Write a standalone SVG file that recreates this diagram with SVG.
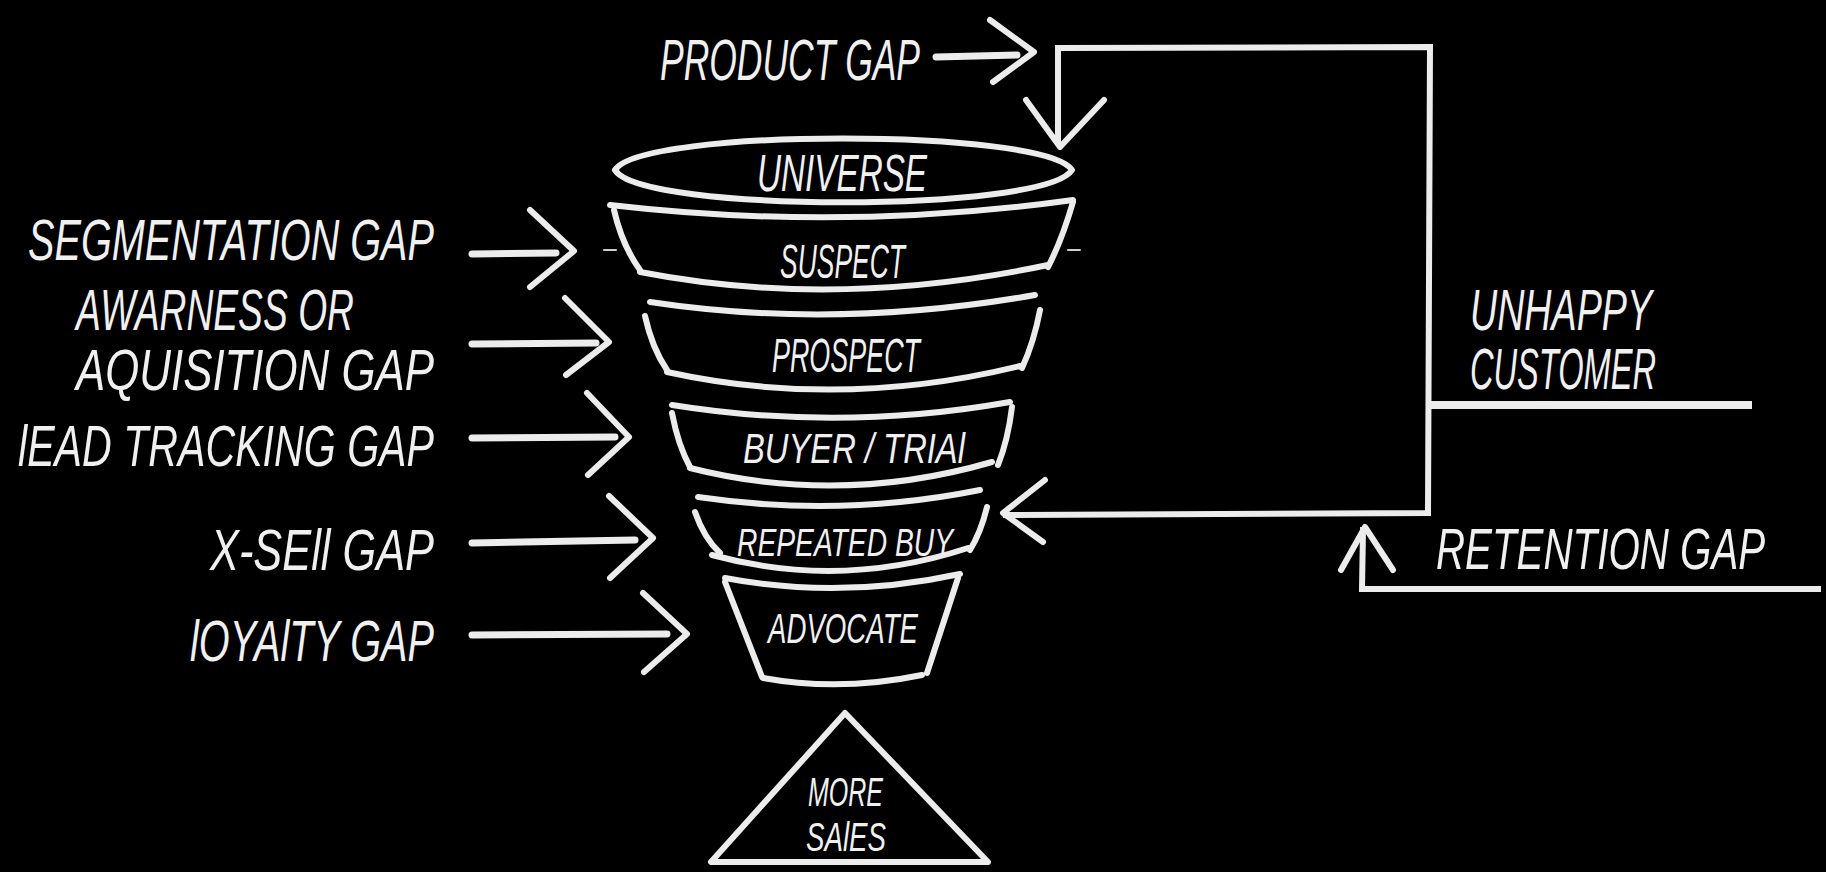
<svg xmlns="http://www.w3.org/2000/svg" width="1826" height="872" viewBox="0 0 1826 872">
  <style>
    .ink { fill: none; stroke: #ececec; stroke-width: 6; stroke-linecap: round; stroke-linejoin: round; }
    .thin { fill: none; stroke: #cfcfcf; stroke-width: 2; stroke-linecap: round; }
    .wire { fill: none; stroke: #ececec; stroke-width: 6; stroke-linecap: square; stroke-linejoin: miter; }
    .shaft { fill: none; stroke: #ececec; stroke-width: 7; stroke-linecap: round; }
    .lbl { fill: #f0f0f0; font-family: "Liberation Sans", "DejaVu Sans", sans-serif; font-style: italic; font-size: 58px; }
    .stage { fill: #f0f0f0; font-family: "Liberation Sans", "DejaVu Sans", sans-serif; font-style: italic; }
  </style>
  <rect x="0" y="0" width="1826" height="872" fill="#000000"/>

  <!-- funnel stages, widest on top -->
  <g id="universe">
    <path class="ink" d="M615,170 C640,128 1045,128 1072,170 C1045,213 640,213 615,170"/>
    <text class="stage" x="757" y="191" font-size="52" textLength="170" lengthAdjust="spacingAndGlyphs">UNIVERSE</text>
  </g>
  <g id="suspect">
    <path class="ink" d="M610,205 Q843,232 1073,200"/>
    <path class="ink" d="M614,210 Q622,245 640,270"/>
    <path class="ink" d="M640,272 Q835,310 1048,265"/>
    <path class="ink" d="M1073,202 Q1062,240 1048,267"/>
    <path class="thin" d="M604,250 L616,250 M1068,250 L1080,250"/>
    <text class="stage" x="780" y="278" font-size="49" textLength="125" lengthAdjust="spacingAndGlyphs">SUSPECT</text>
  </g>
  <g id="prospect">
    <path class="ink" d="M650,302 Q835,330 1035,295"/>
    <path class="ink" d="M645,316 Q652,348 667,370"/>
    <path class="ink" d="M667,372 Q840,410 1020,366"/>
    <path class="ink" d="M1040,310 Q1034,342 1022,368"/>
    <text class="stage" x="772" y="372" font-size="49" textLength="148" lengthAdjust="spacingAndGlyphs">PROSPECT</text>
  </g>
  <g id="buyer-trial">
    <path class="ink" d="M672,405 Q840,432 1010,402"/>
    <path class="ink" d="M672,413 Q678,445 690,467"/>
    <path class="ink" d="M690,468 Q840,506 992,462"/>
    <path class="ink" d="M1012,407 Q1008,440 998,465"/>
    <text class="stage" x="743" y="463" font-size="42" textLength="222" lengthAdjust="spacingAndGlyphs">BUYER / TRIAl</text>
  </g>
  <g id="repeated-buy">
    <path class="ink" d="M698,497 Q840,518 980,490"/>
    <path class="ink" d="M695,512 Q704,538 720,553"/>
    <path class="ink" d="M712,555 Q840,590 968,548"/>
    <path class="ink" d="M987,507 Q981,532 970,550"/>
    <text class="stage" x="737" y="556" font-size="38" textLength="216" lengthAdjust="spacingAndGlyphs">REPEATED BUY</text>
  </g>
  <g id="advocate">
    <path class="ink" d="M725,578 Q840,600 960,574"/>
    <path class="ink" d="M725,582 L762,677"/>
    <path class="ink" d="M958,578 L927,673"/>
    <path class="ink" d="M763,678 Q840,692 922,675"/>
    <text class="stage" x="768" y="643" font-size="43" textLength="150" lengthAdjust="spacingAndGlyphs">ADVOCATE</text>
  </g>
  <g id="more-sales">
    <path class="ink" d="M845,713 L711,862 L988,862 Z"/>
    <text class="stage" x="808" y="806" font-size="40" textLength="75" lengthAdjust="spacingAndGlyphs">MORE</text>
    <text class="stage" x="806" y="851" font-size="40" textLength="80" lengthAdjust="spacingAndGlyphs">SAlES</text>
  </g>

  <!-- gap labels -->
  <g id="product-gap">
    <text class="lbl" x="660" y="80" textLength="260" lengthAdjust="spacingAndGlyphs">PRODUCT  GAP</text>
  </g>
  <g id="segmentation-gap">
    <text class="lbl" x="28" y="260" textLength="406" lengthAdjust="spacingAndGlyphs">SEGMENTATION  GAP</text>
  </g>
  <g id="acquisition-gap">
    <text class="lbl" x="76" y="330" textLength="278" lengthAdjust="spacingAndGlyphs">AWARNESS OR</text>
    <text class="lbl" x="76" y="390" textLength="358" lengthAdjust="spacingAndGlyphs">AQUISITION  GAP</text>
  </g>
  <g id="lead-tracking-gap">
    <text class="lbl" x="18" y="466" textLength="416" lengthAdjust="spacingAndGlyphs">lEAD TRACKING  GAP</text>
  </g>
  <g id="x-sell-gap">
    <text class="lbl" x="210" y="570" textLength="224" lengthAdjust="spacingAndGlyphs">X-SEll  GAP</text>
  </g>
  <g id="loyalty-gap">
    <text class="lbl" x="190" y="661" textLength="244" lengthAdjust="spacingAndGlyphs">lOYAlTY  GAP</text>
  </g>
  <g id="unhappy-customer">
    <text class="lbl" x="1470" y="330" textLength="182" lengthAdjust="spacingAndGlyphs">UNHAPPY</text>
    <text class="lbl" x="1470" y="389" textLength="186" lengthAdjust="spacingAndGlyphs">CUSTOMER</text>
  </g>
  <g id="retention-gap">
    <!-- condensed by a horizontal scale so the run stays inside the canvas -->
    <text class="lbl" transform="translate(1436,569) scale(0.695,1)" x="0" y="0" font-size="54">RETENTION  GAP</text>
  </g>

  <!-- connectors -->
  <g id="connectors">
    <!-- product gap feeds the loop back into the top of the funnel -->
    <path class="shaft" d="M936,57 L1017,55"/>
    <path class="ink" d="M990,20 L1034,52 L993,82"/>
    <path class="wire" d="M1058,140 L1058,48 L1430,47 L1428,513 L1006,515"/>
    <path class="ink" d="M1026,100 L1060,147 L1104,100"/>
    <path class="ink" d="M1045,480 L1003,513 L1043,542"/>
    <path class="wire" d="M1430,405 L1748,405" style="stroke-width:8"/>
    <!-- retention gap rises into the return line -->
    <path class="wire" d="M1818,589 L1362,589 L1363,530"/>
    <path class="ink" d="M1341,570 L1365,527 L1393,570"/>
    <!-- gap arrows into the funnel stages -->
    <path class="shaft" d="M472,254 L556,253"/>
    <path class="ink" d="M530,210 L574,251 L530,287"/>
    <path class="shaft" d="M472,344 L596,343"/>
    <path class="ink" d="M565,298 L609,342 L566,375"/>
    <path class="shaft" d="M472,438 L615,437"/>
    <path class="ink" d="M587,393 L629,437 L588,475"/>
    <path class="shaft" d="M472,543 L635,540"/>
    <path class="ink" d="M609,496 L653,538 L610,578"/>
    <path class="shaft" d="M472,635 L667,634"/>
    <path class="ink" d="M643,593 L687,634 L644,672"/>
  </g>
</svg>
